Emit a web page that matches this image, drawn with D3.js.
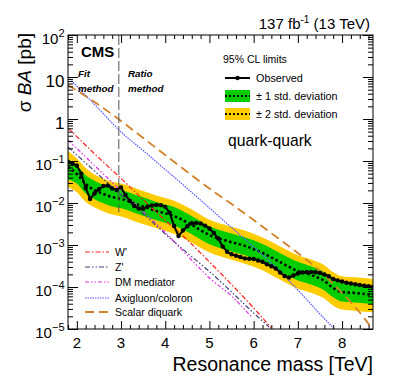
<!DOCTYPE html>
<html>
<head>
<meta charset="utf-8">
<title>Dijet limits quark-quark</title>
<script src="https://d3js.org/d3.v7.min.js"></script>
<style>
    body { margin: 0; background: #fff; }
    svg text { font-family: "Liberation Sans", Arial, Helvetica, sans-serif; fill: #000; }
</style>
</head>
<body>
<svg id="chart" width="399" height="387"></svg>
<script>
// observed limit, one point every 0.1 TeV
const obsMass = [1.8, 1.9, 2.0, 2.1, 2.2, 2.3, 2.4, 2.5, 2.6, 2.7, 2.8, 2.9, 3.0, 3.1, 3.2, 3.3, 3.4, 3.5, 3.6, 3.7,
    3.8, 3.9, 4.0, 4.1, 4.2, 4.3, 4.4, 4.5, 4.6, 4.7, 4.8, 4.9, 5.0, 5.1, 5.2, 5.3, 5.4, 5.5, 5.6, 5.7,
    5.8, 5.9, 6.0, 6.1, 6.2, 6.3, 6.4, 6.5, 6.6, 6.7, 6.8, 6.9, 7.0, 7.1, 7.2, 7.3, 7.4, 7.5, 7.6, 7.7,
    7.8, 7.9, 8.0, 8.1, 8.2, 8.3, 8.4, 8.5, 8.6, 8.7];
const obsLimit = [0.095, 0.087, 0.078, 0.050, 0.0228, 0.0125, 0.0168, 0.0213, 0.0254, 0.026, 0.0221, 0.0205, 0.0235, 0.0155, 0.0112, 0.0085, 0.0074, 0.0073, 0.0083, 0.0087,
    0.0090, 0.0089, 0.0081, 0.0059, 0.00283, 0.00164, 0.00221, 0.0028, 0.0033, 0.00334, 0.00324, 0.0029, 0.00248, 0.00193, 0.00143, 0.00092, 0.00069, 0.00060, 0.000556, 0.000518,
    0.00048, 0.000472, 0.000464, 0.000428, 0.0004, 0.000347, 0.000311, 0.000276, 0.000221, 0.000183, 0.000168, 0.000188, 0.00021, 0.000221, 0.000228, 0.000228, 0.000224, 0.000216, 0.000199, 0.000181,
    0.000155, 0.000144, 0.000135, 0.000126, 0.000121, 0.000116, 0.000112, 0.000108, 0.000105, 0.0001];

// expected limit and bands
const expMass = [1.8, 2.0, 2.2, 2.4, 2.6, 2.8, 3.0, 3.4, 3.8, 4.2, 4.6, 5.0, 5.4, 5.8, 6.2, 6.6, 7.0, 7.3, 7.6, 7.8, 8.0, 8.3, 8.7];
const expLimit = [0.072, 0.049, 0.0283, 0.0204, 0.0164, 0.0139, 0.0125, 0.0090, 0.00645, 0.0049, 0.0030, 0.00173, 0.00125, 0.00095, 0.00065, 0.00039, 0.00024, 0.000193, 0.000139, 0.0000946, 0.000076, 0.000072, 0.000065];
const exp1Lo = [0.037, 0.029, 0.0168, 0.0122, 0.0098, 0.0083, 0.0075, 0.0054, 0.0039, 0.0029, 0.0018, 0.00104, 0.00075, 0.00057, 0.00039, 0.00023, 0.000143, 0.000115, 0.000083, 0.000057, 0.000045, 0.000043, 0.000039];
const exp1Hi = [0.11, 0.078, 0.046, 0.034, 0.027, 0.023, 0.0205, 0.0148, 0.0106, 0.0080, 0.0049, 0.0028, 0.0020, 0.00152, 0.00105, 0.00064, 0.00040, 0.00031, 0.000225, 0.000155, 0.000125, 0.000118, 0.000106];
const exp2Lo = [0.024, 0.018, 0.0105, 0.0078, 0.0063, 0.0053, 0.0048, 0.0034, 0.0025, 0.00185, 0.00113, 0.00066, 0.00048, 0.00036, 0.00025, 0.000148, 0.000091, 0.000073, 0.000053, 0.000036, 0.000029, 0.000027, 0.000025];
const exp2Hi = [0.173, 0.115, 0.068, 0.048, 0.038, 0.032, 0.029, 0.021, 0.015, 0.0113, 0.0070, 0.0040, 0.0029, 0.0022, 0.0015, 0.00092, 0.00057, 0.00045, 0.00033, 0.000225, 0.00018, 0.00017, 0.000155];

// model cross sections
const wpMass = [1.8, 2.5, 3.0, 3.5, 4.0, 4.5, 5.0, 5.5, 6.0, 6.4];
const wpXsec = [0.61, 0.118, 0.0383, 0.0121, 0.00383, 0.00132, 0.000394, 0.000115, 0.0000316, 0.0000106];
const zpMass = [1.8, 2.5, 3.0, 3.5, 4.0, 4.5, 5.0, 5.5, 6.0, 6.35];
const zpXsec = [0.215, 0.0464, 0.0155, 0.00562, 0.00183, 0.000645, 0.000234, 0.000076, 0.000024, 0.0000112];
const dmMass = [1.8, 2.5, 3.0, 3.5, 4.0, 4.5, 5.0, 5.5, 5.95];
const dmXsec = [0.316, 0.062, 0.0193, 0.0063, 0.002, 0.000562, 0.000164, 0.000061, 0.0000193];
const axiMass = [1.8, 2.5, 3.0, 3.5, 4.0, 4.5, 5.0, 5.5, 6.0, 6.5, 7.0, 7.5, 7.8, 8.0];
const axiXsec = [10, 1.73, 0.49, 0.178, 0.0628, 0.0221, 0.0076, 0.00261, 0.000896, 0.000299, 0.0000849, 0.0000228, 0.0000106, 0.0000062];
const sdqMass = [1.8, 2.5, 3.0, 3.5, 4.0, 4.5, 5.0, 5.5, 6.0, 6.5, 7.0, 7.5, 8.0, 8.5, 8.7];
const sdqXsec = [6.45, 2.15, 0.90, 0.353, 0.139, 0.0547, 0.0221, 0.00946, 0.00394, 0.00159, 0.000645, 0.00024, 0.000072, 0.0000183, 0.0000095];

const xMajorTicks = [2, 3, 4, 5, 6, 7, 8];
const yTickLabels = [
    {v: 1e-5, base: "10", exp: "\u22125"},
    {v: 1e-4, base: "10", exp: "\u22124"},
    {v: 1e-3, base: "10", exp: "\u22123"},
    {v: 1e-2, base: "10", exp: "\u22122"},
    {v: 1e-1, base: "10", exp: "\u22121"},
    {v: 1, base: "1", exp: ""},
    {v: 10, base: "10", exp: ""},
    {v: 100, base: "10", exp: "2"}
];
const fitRatioBoundary = 2.95;

const models = [
    {name: "W'", mass: wpMass, xs: wpXsec, color: "#ff2020", dash: "5,2,1.5,2", width: 1.2},
    {name: "Z'", mass: zpMass, xs: zpXsec, color: "#40407a", dash: "5,2,1.5,2,1.5,2", width: 1.2},
    {name: "DM mediator", mass: dmMass, xs: dmXsec, color: "#e030e8", dash: "4,2,1.5,2,1.5,2", width: 1.2},
    {name: "Axigluon/coloron", mass: axiMass, xs: axiXsec, color: "#5a5aff", dash: "1.5,1", width: 1.2},
    {name: "Scalar diquark", mass: sdqMass, xs: sdqXsec, color: "#d4822a", dash: "9,5", width: 1.8}
];

const pLeft = 68, pRight = 373, pTop = 35, pBottom = 329;
const svg = d3.select("#chart");

const x = d3.scaleLinear().domain([1.8, 8.7]).range([pLeft, pRight]);
const y = d3.scaleLog().domain([1e-5, 100]).range([pBottom, pTop]);

svg.append("defs").append("clipPath").attr("id", "plotclip")
    .append("rect").attr("x", pLeft).attr("y", pTop).attr("width", pRight - pLeft).attr("height", pBottom - pTop);

const plot = svg.append("g").attr("clip-path", "url(#plotclip)");

const bands = expMass.map((m, i) => ({m: m, e: expLimit[i], l1: exp1Lo[i], h1: exp1Hi[i], l2: exp2Lo[i], h2: exp2Hi[i]}));

plot.append("path")
    .attr("d", d3.area().x(d => x(d.m)).y0(d => y(d.l2)).y1(d => y(d.h2)).curve(d3.curveMonotoneX)(bands))
    .attr("fill", "#ffcc00");
plot.append("path")
    .attr("d", d3.area().x(d => x(d.m)).y0(d => y(d.l1)).y1(d => y(d.h1)).curve(d3.curveMonotoneX)(bands))
    .attr("fill", "#00cc00");
plot.append("path")
    .attr("d", d3.line().x(d => x(d.m)).y(d => y(d.e)).curve(d3.curveMonotoneX)(bands))
    .attr("fill", "none").attr("stroke", "#000").attr("stroke-width", 2.5).attr("stroke-dasharray", "2.5,2.5");

// model curves
models.forEach(md => {
    const pts = md.mass.map((m, i) => [m, md.xs[i]]);
    plot.append("path")
        .attr("d", d3.line().x(d => x(d[0])).y(d => y(d[1])).curve(d3.curveMonotoneX)(pts))
        .attr("fill", "none").attr("stroke", md.color).attr("stroke-width", md.width)
        .attr("stroke-dasharray", md.dash);
});

// fit / ratio boundary
plot.append("line")
    .attr("x1", x(fitRatioBoundary)).attr("x2", x(fitRatioBoundary))
    .attr("y1", y(100)).attr("y2", y(0.006))
    .attr("stroke", "#555").attr("stroke-width", 1).attr("stroke-dasharray", "10,3");

// observed
const obs = obsMass.map((m, i) => [m, obsLimit[i]]);
plot.append("path")
    .attr("d", d3.line().x(d => x(d[0])).y(d => y(d[1]))(obs))
    .attr("fill", "none").attr("stroke", "#000").attr("stroke-width", 2);
plot.selectAll("circle.obs").data(obs).enter().append("circle")
    .attr("class", "obs")
    .attr("cx", d => x(d[0])).attr("cy", d => y(d[1])).attr("r", 2.2).attr("fill", "#000");

// frame
svg.append("rect").attr("x", pLeft).attr("y", pTop).attr("width", pRight - pLeft).attr("height", pBottom - pTop)
    .attr("fill", "none").attr("stroke", "#000").attr("stroke-width", 1);

// ticks
const xMinor = d3.range(1.8, 8.71, 0.2).filter(v => Math.abs(v - Math.round(v)) > 0.01);
const yMinor = [];
[1e-5, 1e-4, 1e-3, 1e-2, 1e-1, 1, 10].forEach(dec => {
    for (let k = 2; k <= 9; k++) yMinor.push(dec * k);
});
const yMajor = yTickLabels.map(d => d.v);

function styleAxis(g) {
    g.select(".domain").remove();
    g.selectAll("line").attr("stroke", "#000").attr("stroke-width", 1);
}

svg.append("g").attr("transform", `translate(0,${pBottom})`)
    .call(d3.axisBottom(x).tickValues(xMajorTicks).tickSize(-8).tickFormat("")).call(styleAxis);
svg.append("g").attr("transform", `translate(0,${pBottom})`)
    .call(d3.axisBottom(x).tickValues(xMinor).tickSize(-4).tickFormat("")).call(styleAxis);
svg.append("g").attr("transform", `translate(0,${pTop})`)
    .call(d3.axisTop(x).tickValues(xMajorTicks).tickSize(-8).tickFormat("")).call(styleAxis);
svg.append("g").attr("transform", `translate(0,${pTop})`)
    .call(d3.axisTop(x).tickValues(xMinor).tickSize(-4).tickFormat("")).call(styleAxis);

svg.append("g").attr("transform", `translate(${pLeft},0)`)
    .call(d3.axisLeft(y).tickValues(yMajor).tickSize(-10).tickFormat("")).call(styleAxis);
svg.append("g").attr("transform", `translate(${pLeft},0)`)
    .call(d3.axisLeft(y).tickValues(yMinor).tickSize(-5).tickFormat("")).call(styleAxis);
svg.append("g").attr("transform", `translate(${pRight},0)`)
    .call(d3.axisRight(y).tickValues(yMajor).tickSize(-10).tickFormat("")).call(styleAxis);
svg.append("g").attr("transform", `translate(${pRight},0)`)
    .call(d3.axisRight(y).tickValues(yMinor).tickSize(-5).tickFormat("")).call(styleAxis);

// tick labels
svg.append("g").selectAll("text").data(xMajorTicks).enter().append("text")
    .attr("x", d => x(d)).attr("y", 348).attr("text-anchor", "middle")
    .attr("font-size", 15).text(d => d);

yTickLabels.forEach(d => {
    const t = svg.append("text").attr("x", 64.5).attr("text-anchor", "end");
    if (d.exp === "") {
        t.attr("y", y(d.v) + 9.5).attr("font-size", 17).text(d.base);
    } else {
        t.attr("y", y(d.v) + 9).attr("font-size", 15);
        t.append("tspan").text(d.base);
        t.append("tspan").attr("font-size", 11).attr("dy", -7).text(d.exp);
    }
});

// axis titles
svg.append("text").attr("x", pRight).attr("y", 371).attr("text-anchor", "end")
    .attr("font-size", 19.5).text("Resonance mass [TeV]");
const yt = svg.append("text").attr("transform", "translate(31,33) rotate(-90)")
    .attr("text-anchor", "end").attr("font-size", 19);
yt.append("tspan").text("\u03c3 ");
yt.append("tspan").attr("font-style", "italic").text("BA");
yt.append("tspan").text(" [pb]");

// top labels
const lumi = svg.append("text").attr("x", 370).attr("y", 29).attr("text-anchor", "end").attr("font-size", 15);
lumi.append("tspan").text("137 fb");
lumi.append("tspan").attr("font-size", 10).attr("dy", -6).text("-1");
lumi.append("tspan").attr("dy", 6).text(" (13 TeV)");

svg.append("text").attr("x", 81).attr("y", 57).attr("font-size", 15).attr("font-weight", "bold").text("CMS");
const methodLabels = [[78, 77, "Fit"], [78, 92, "method"], [128, 77, "Ratio"], [128, 92, "method"]];
methodLabels.forEach(m => {
    svg.append("text").attr("x", m[0]).attr("y", m[1]).attr("font-size", 9.8)
        .attr("font-style", "italic").attr("font-weight", "bold").text(m[2]);
});

svg.append("text").attr("x", 228).attr("y", 146).attr("font-size", 15.7).text("quark-quark");

// limit legend
svg.append("text").attr("x", 223).attr("y", 63).attr("font-size", 10.5).text("95% CL limits");
svg.append("line").attr("x1", 225).attr("x2", 250).attr("y1", 78).attr("y2", 78)
    .attr("stroke", "#000").attr("stroke-width", 2);
svg.append("circle").attr("cx", 237.5).attr("cy", 78).attr("r", 2.2).attr("fill", "#000");
svg.append("text").attr("x", 256).attr("y", 82).attr("font-size", 10.8).text("Observed");

[["#00cc00", 90, "\u00b1 1 std. deviation"], ["#ffcc00", 108, "\u00b1 2 std. deviation"]].forEach(b => {
    svg.append("rect").attr("x", 225).attr("y", b[1]).attr("width", 25).attr("height", 12).attr("fill", b[0]);
    svg.append("line").attr("x1", 225).attr("x2", 250).attr("y1", b[1] + 6).attr("y2", b[1] + 6)
        .attr("stroke", "#000").attr("stroke-width", 2).attr("stroke-dasharray", "2,2");
    svg.append("text").attr("x", 256).attr("y", b[1] + 10).attr("font-size", 10.8).text(b[2]);
});

// model legend
const legY = [256, 271, 286, 302, 316];
models.forEach((md, i) => {
    svg.append("line").attr("x1", 85).attr("x2", 109).attr("y1", legY[i] - 4).attr("y2", legY[i] - 4)
        .attr("stroke", md.color).attr("stroke-width", md.width).attr("stroke-dasharray", md.dash);
    svg.append("text").attr("x", 115).attr("y", legY[i]).attr("font-size", 10.5).text(md.name);
});
</script>
</body>
</html>
